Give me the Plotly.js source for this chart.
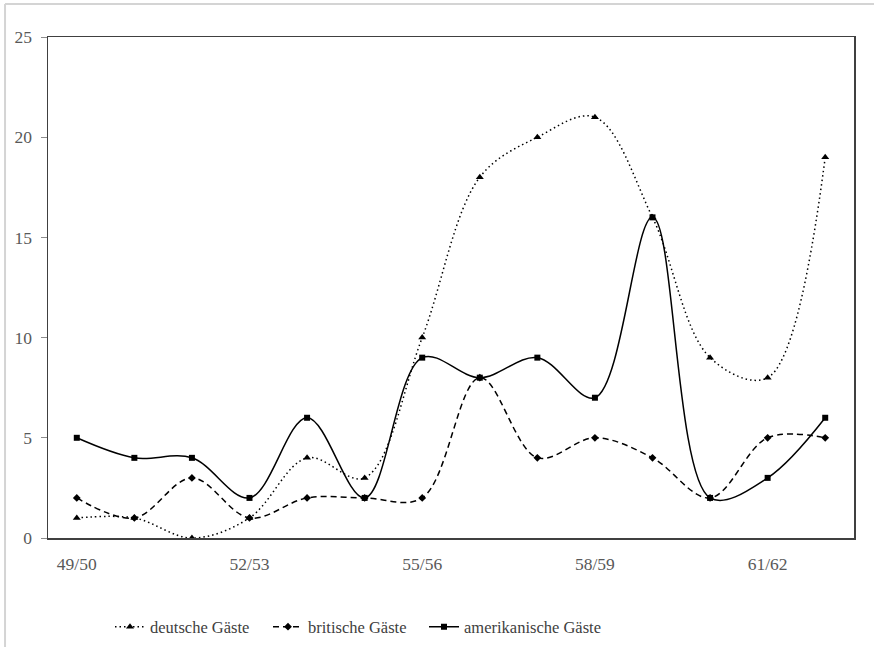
<!DOCTYPE html>
<html>
<head>
<meta charset="utf-8">
<script src="https://cdn.plot.ly/plotly-3.0.1.min.js"></script>
<style>
html,body{margin:0;padding:0;background:#fff;}
#chart{width:874px;height:647px;}
</style>
</head>
<body>
<div id="chart"></div>
<script>
const categories = ["49/50","50/51","51/52","52/53","53/54","54/55","55/56","56/57","57/58","58/59","59/60","60/61","61/62","62/63"];
const deutsche = [1,1,0,1,4,3,10,18,20,21,16,9,8,19];
const britische = [2,1,3,1,2,2,2,8,4,5,4,2,5,5];
const amerikanische = [5,4,4,2,6,2,9,8,9,7,16,2,3,6];
const xTickVals = ["49/50","52/53","55/56","58/59","61/62"];
const yTickVals = [0,5,10,15,20,25];

const FONT = "'Liberation Serif', 'DejaVu Serif', serif";

const traces = [
  {
    x: categories, y: deutsche, name: "deutsche Gäste", type: "scatter", mode: "lines+markers",
    legend: "legend",
    line: {shape: "spline", smoothing: 1, dash: "1.5px,3px", color: "#000", width: 1.5},
    marker: {symbol: "triangle-up", size: 7, color: "#000"}
  },
  {
    x: categories, y: britische, name: "britische Gäste", type: "scatter", mode: "lines+markers",
    legend: "legend2",
    line: {shape: "spline", smoothing: 1, dash: "6px,4px", color: "#000", width: 1.5},
    marker: {symbol: "diamond", size: 6, color: "#000"}
  },
  {
    x: categories, y: amerikanische, name: "amerikanische Gäste", type: "scatter", mode: "lines+markers",
    legend: "legend3",
    line: {shape: "spline", smoothing: 1, color: "#000", width: 1.5},
    marker: {symbol: "square", size: 6, color: "#000"}
  }
];

function leg(xpx) {
  return {
    orientation: "h", xref: "container", yref: "container",
    x: xpx / 874, xanchor: "left", y: 0.031, yanchor: "middle",
    font: {family: FONT, size: 16.5, color: "#404040"},
    itemwidth: 30, bgcolor: "rgba(0,0,0,0)"
  };
}

const layout = {
  width: 874, height: 647,
  margin: {l: 48, r: 20, t: 37, b: 109},
  paper_bgcolor: "#fff", plot_bgcolor: "#fff",
  font: {family: FONT, size: 17, color: "#595959"},
  showlegend: true,
  legend: leg(110),
  legend2: leg(268),
  legend3: leg(424),
  xaxis: {
    type: "category", range: [-0.5, 13.5],
    tickmode: "array", tickvals: xTickVals, ticktext: xTickVals,
    ticks: "", showgrid: false, zeroline: false,
    showline: true, mirror: true, linecolor: "#404040", linewidth: 1.5,
    ticklabelstandoff: 9,
    tickfont: {family: FONT, size: 17.5, color: "#595959"}
  },
  yaxis: {
    range: [0, 25], tickmode: "array", tickvals: yTickVals,
    ticks: "outside", ticklen: 6, tickcolor: "#8c8c8c", tickwidth: 1,
    showgrid: false, zeroline: false,
    showline: true, mirror: true, linecolor: "#404040", linewidth: 1.5,
    ticklabelstandoff: 5,
    tickfont: {family: FONT, size: 17.5, color: "#595959"}
  },
  shapes: [
    {type: "line", xref: "paper", yref: "paper", x0: -0.0533, x1: 1.03, y0: 1.0659, y1: 1.0659,
     line: {color: "#d4d4d4", width: 2}},
    {type: "line", xref: "paper", yref: "paper", x0: -0.0533, x1: -0.0533, y0: -0.22, y1: 1.0659,
     line: {color: "#d4d4d4", width: 2}}
  ]
};

Plotly.newPlot("chart", traces, layout, {displayModeBar: false, staticPlot: true});
</script>
</body>
</html>
